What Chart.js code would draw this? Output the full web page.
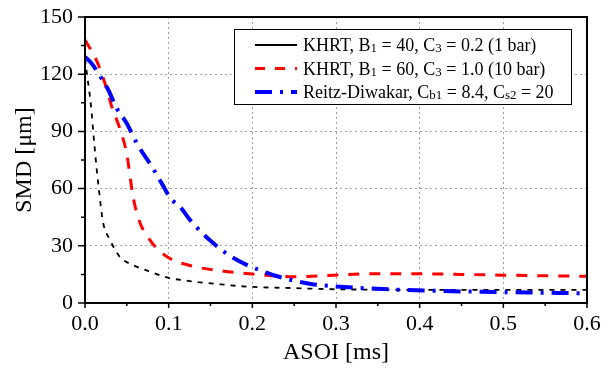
<!DOCTYPE html>
<html>
<head>
<meta charset="utf-8">
<script src="https://cdn.jsdelivr.net/npm/chart.js@4.4.0/dist/chart.umd.min.js"></script>
<style>
  html, body { margin: 0; padding: 0; background: #fff; }
  #wrap { width: 616px; height: 369px; position: relative; }
</style>
</head>
<body>
<div id="wrap"><canvas id="smdChart"></canvas></div>
<script>
// Donnees (ASOI en ms, SMD en um)
const khrt1X = [0, 0.003, 0.007, 0.011, 0.014, 0.017, 0.0215, 0.03, 0.042, 0.057, 0.078, 0.1, 0.125, 0.153, 0.193, 0.25, 0.3, 0.35, 0.4, 0.45, 0.5, 0.55, 0.6];
const khrt1Y = [128, 118, 104, 84, 70, 58, 42.5, 33, 24, 20, 16.4, 13.2, 11.5, 10.2, 8.6, 7.8, 7.2, 7.0, 6.9, 6.9, 6.9, 6.9, 6.9];

const khrt10X = [0, 0.014, 0.024, 0.032, 0.042, 0.05, 0.057, 0.0633, 0.0777, 0.099, 0.13, 0.16, 0.21, 0.25, 0.29, 0.35, 0.4, 0.45, 0.5, 0.55, 0.6];
const khrt10Y = [138, 127, 115, 103, 91, 78, 57, 45, 33, 24, 19.2, 17, 14.8, 13.8, 14.4, 15.4, 15.3, 15, 14.6, 14.3, 14.0];

const reitzX = [0, 0.008, 0.016, 0.028, 0.038, 0.05, 0.062, 0.08, 0.094, 0.102, 0.1135, 0.1255, 0.149, 0.177, 0.213, 0.245, 0.27, 0.297, 0.356, 0.416, 0.472, 0.532, 0.6];
const reitzY = [129, 125.6, 120.4, 111.6, 102, 94.2, 83.7, 71.5, 61, 55, 50.5, 43.6, 33, 23.7, 16.5, 12.2, 10, 8.8, 7.3, 6.4, 5.9, 5.5, 5.1];

// Legende : morceaux de texte, les indices sont marques sub
const legendParts = [
    [['KHRT, B'], ['1', 1], [' = 40, C'], ['3', 1], [' = 0.2 (1 bar)']],
    [['KHRT, B'], ['1', 1], [' = 60, C'], ['3', 1], [' = 1.0 (10 bar)']],
    [['Reitz-Diwakar, C'], ['b1', 1], [' = 8.4, C'], ['s2', 1], [' = 20']]
];

const serif = '"Liberation Serif", "Times New Roman", serif';

function toPoints(xs, ys) {
    return xs.map((x, i) => ({ x: x, y: ys[i] }));
}

function isMajor(v, step) {
    return Math.abs(v / step - Math.round(v / step)) < 1e-6;
}

// Cadre, graduations et legende dessines a la main
const framePlugin = {
    id: 'frame',
    afterDatasetsDraw(chart) {
        const ctx = chart.ctx;
        const a = chart.chartArea;
        const xs = chart.scales.x, ys = chart.scales.y;
        ctx.save();
        ctx.strokeStyle = '#000';
        ctx.lineWidth = 2;
        ctx.setLineDash([]);
        ctx.strokeRect(a.left, a.top, a.right - a.left, a.bottom - a.top);

        ctx.lineWidth = 1.5;
        ctx.beginPath();
        xs.ticks.forEach(t => {
            const px = xs.getPixelForValue(t.value);
            const len = isMajor(t.value, 0.1) ? 5 : 3;
            ctx.moveTo(px, a.bottom);
            ctx.lineTo(px, a.bottom + len);
        });
        ys.ticks.forEach(t => {
            const py = ys.getPixelForValue(t.value);
            const len = isMajor(t.value, 30) ? 7 : 4;
            ctx.moveTo(a.left, py);
            ctx.lineTo(a.left - len, py);
        });
        ctx.stroke();

        // legende
        const bx = a.left + 149, by = a.top + 12, bw = 337, bh = 75;
        ctx.fillStyle = '#fff';
        ctx.fillRect(bx, by, bw, bh);
        ctx.lineWidth = 1;
        ctx.strokeStyle = '#000';
        ctx.strokeRect(bx + 0.5, by + 0.5, bw, bh);

        chart.data.datasets.forEach((ds, i) => {
            const ly = by + 16 + i * 23.5;
            ctx.strokeStyle = ds.borderColor;
            ctx.lineWidth = ds.borderWidth;
            ctx.setLineDash(ds.legendDash);
            ctx.beginPath();
            ctx.moveTo(bx + 21, ly);
            ctx.lineTo(bx + 63, ly);
            ctx.stroke();
            ctx.setLineDash([]);

            let tx = bx + 69;
            ctx.fillStyle = '#000';
            ctx.textBaseline = 'alphabetic';
            legendParts[i].forEach(p => {
                const sub = p[1] === 1;
                ctx.font = (sub ? '13px ' : '18px ') + serif;
                ctx.fillText(p[0], tx, ly + 6 + (sub ? 1 : 0));
                tx += ctx.measureText(p[0]).width;
            });
        });
        ctx.restore();
    }
};

const ctx = document.getElementById('smdChart').getContext('2d');
const smdChart = new Chart(ctx, {
    type: 'line',
    data: {
        datasets: [
            {
                label: 'KHRT, B1 = 40, C3 = 0.2 (1 bar)',
                data: toPoints(khrt1X, khrt1Y),
                borderColor: '#000000',
                borderWidth: 1.8,
                borderDash: [5, 6],
                legendDash: [],
                order: 3
            },
            {
                label: 'KHRT, B1 = 60, C3 = 1.0 (10 bar)',
                data: toPoints(khrt10X, khrt10Y),
                borderColor: '#ff0000',
                borderWidth: 3,
                borderDash: [11, 10],
                legendDash: [10, 10],
                order: 2
            },
            {
                label: 'Reitz-Diwakar, Cb1 = 8.4, Cs2 = 20',
                data: toPoints(reitzX, reitzY),
                borderColor: '#0000ff',
                borderWidth: 4,
                borderDash: [17, 8, 3, 8],
                legendDash: [17, 8, 3, 8],
                order: 1
            }
        ]
    },
    options: {
        responsive: true,
        maintainAspectRatio: false,
        animation: false,
        layout: { padding: { top: 17, right: 29, bottom: 0, left: 0 } },
        elements: {
            point: { radius: 0 },
            line: { cubicInterpolationMode: 'monotone', fill: false }
        },
        scales: {
            x: {
                type: 'linear',
                min: 0,
                max: 0.6,
                afterFit: s => { s.height = 66; s.paddingLeft = 0; s.paddingRight = 0; },
                ticks: {
                    stepSize: 0.05,
                    color: '#000',
                    padding: 8,
                    maxRotation: 0,
                    autoSkip: false,
                    font: { family: serif, size: 22 },
                    callback: v => isMajor(v, 0.1) ? v.toFixed(1) : ''
                },
                grid: {
                    drawTicks: false,
                    lineWidth: 1,
                    color: c => (c.tick && isMajor(c.tick.value, 0.1) && c.tick.value > 0.01 && c.tick.value < 0.59) ? '#a0a0a0' : 'rgba(0,0,0,0)'
                },
                border: { display: false, dash: [2, 3] },
                title: {
                    display: true,
                    text: 'ASOI [ms]',
                    color: '#000',
                    font: { family: serif, size: 24 },
                    padding: { top: 0, bottom: 2 }
                }
            },
            y: {
                type: 'linear',
                min: 0,
                max: 150,
                afterFit: s => { s.width = 85; s.paddingTop = 0; s.paddingBottom = 0; },
                ticks: {
                    stepSize: 15,
                    color: '#000',
                    padding: 12,
                    autoSkip: false,
                    font: { family: serif, size: 22 },
                    callback: v => isMajor(v, 30) ? String(v) : ''
                },
                grid: {
                    drawTicks: false,
                    lineWidth: 1,
                    color: c => (c.tick && isMajor(c.tick.value, 30) && c.tick.value > 1 && c.tick.value < 149) ? '#a0a0a0' : 'rgba(0,0,0,0)'
                },
                border: { display: false, dash: [2, 3] },
                title: {
                    display: true,
                    text: 'SMD [\u03bcm]',
                    color: '#000',
                    font: { family: serif, size: 24 },
                    padding: { top: 10, bottom: 0 }
                }
            }
        },
        plugins: {
            legend: { display: false },
            tooltip: { enabled: false }
        }
    },
    plugins: [framePlugin]
});
</script>
</body>
</html>
